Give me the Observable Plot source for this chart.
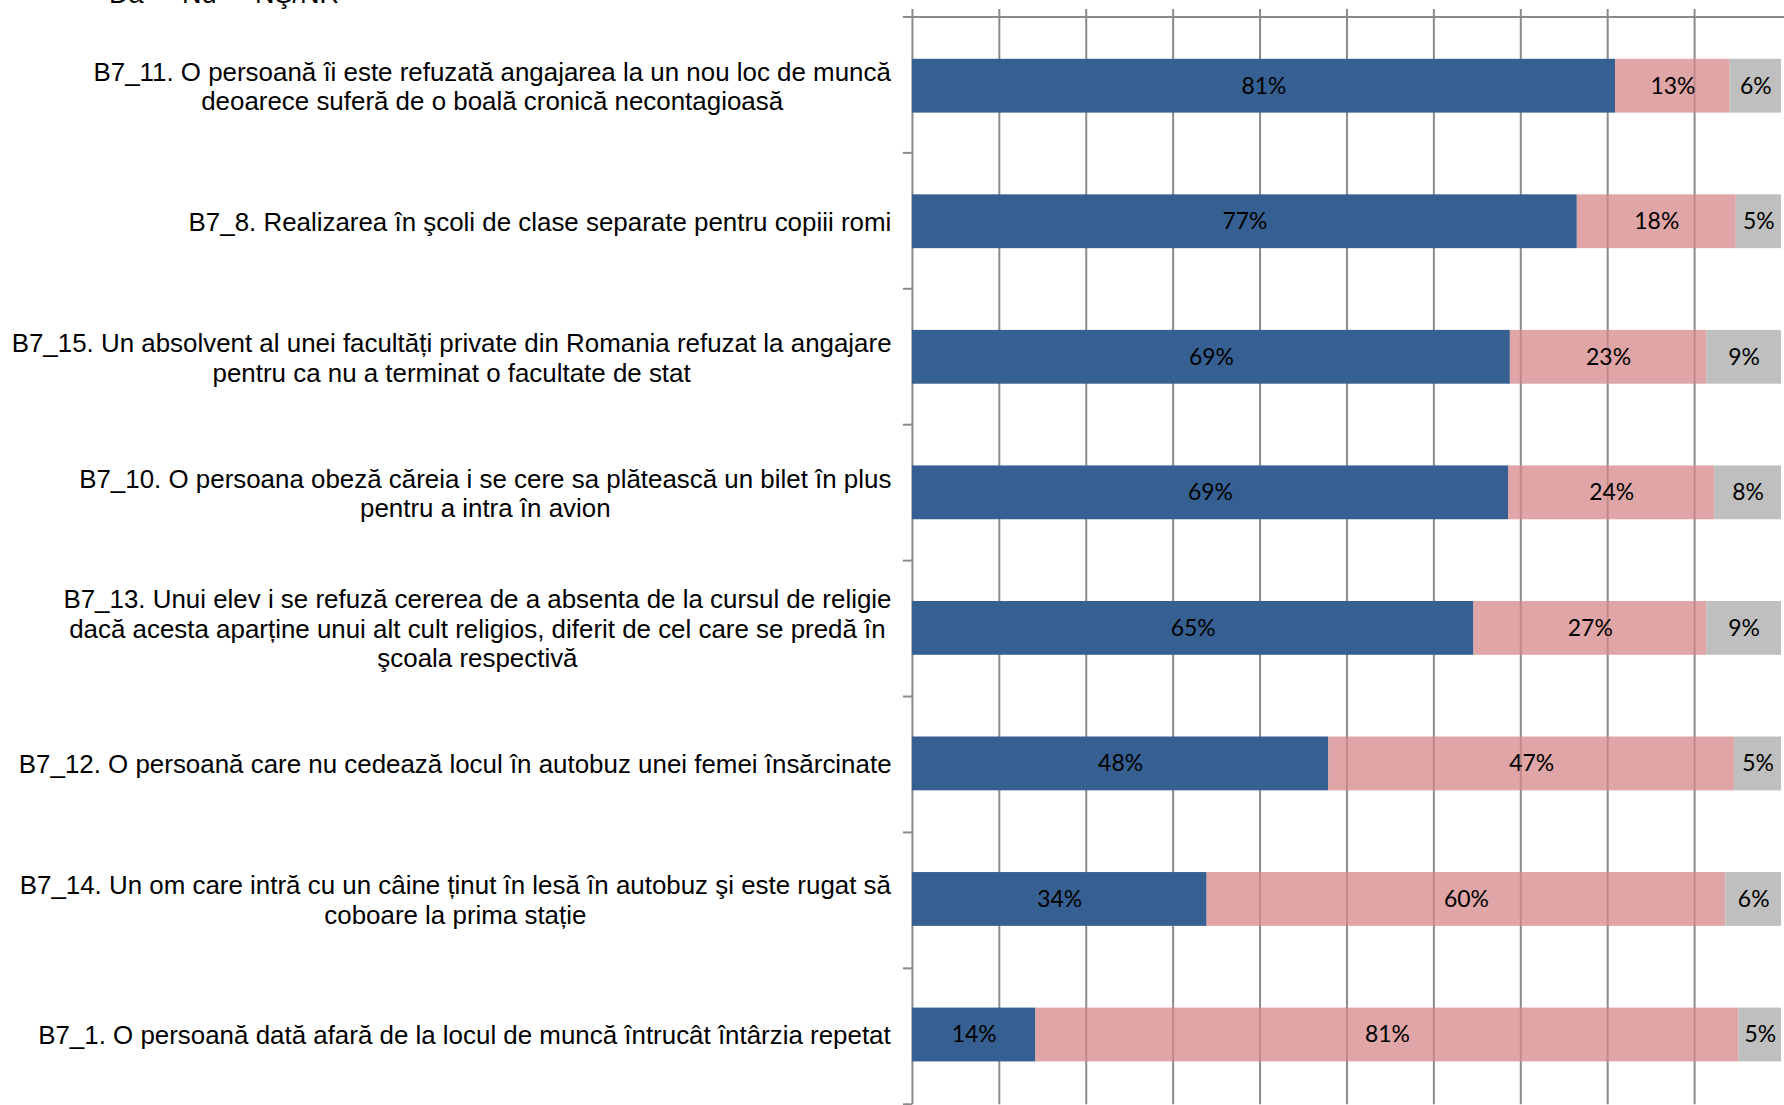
<!DOCTYPE html>
<html><head><meta charset="utf-8">
<script src="https://cdn.jsdelivr.net/npm/d3@7"></script>
<script src="https://cdn.jsdelivr.net/npm/@observablehq/plot@0.6"></script>
<style>
html,body{margin:0;padding:0;background:#fff;overflow:hidden;width:1784px;height:1105px}
#wrap{position:relative;width:1784px;height:1105px;overflow:hidden}
#chart{position:absolute;left:0;top:0}
#legend{position:absolute;left:0;top:0;font-family:"Liberation Sans",Arial,sans-serif;font-size:27px;line-height:27px;color:#000}
.li{position:absolute;top:-19px;white-space:nowrap}
.sw{position:absolute;left:-17px;top:8px;width:11px;height:11px}
</style></head><body>
<div id="wrap"><div id="chart"></div><div id="legend"></div></div>
<script>
const series = ["Da", "Nu", "NŞ/NR"];
const seriesColors = ["#366092", "#d4878a", "#bfbfbf"];
const categories = [
  "B7_11. O persoană îi este refuzată angajarea la un nou loc de muncă\ndeoarece suferă de o boală cronică necontagioasă",
  "B7_8. Realizarea în şcoli de clase separate pentru copiii romi",
  "B7_15. Un absolvent al unei facultăți private din Romania refuzat la angajare\npentru ca nu a terminat o facultate de stat",
  "B7_10. O persoana obeză căreia i se cere sa plătească un bilet în plus\npentru a intra în avion",
  "B7_13. Unui elev i se refuză cererea de a absenta de la cursul de religie\ndacă acesta aparține unui alt cult religios, diferit de cel care se predă în\nşcoala respectivă",
  "B7_12. O persoană care nu cedează locul în autobuz unei femei însărcinate",
  "B7_14. Un om care intră cu un câine ținut în lesă în autobuz şi este rugat să\ncoboare la prima stație",
  "B7_1. O persoană dată afară de la locul de muncă întrucât întârzia repetat"
];
const da = [80.9, 76.5, 68.8, 68.6, 64.6, 47.9, 33.9, 14.2];
const nu = [13.2, 18.3, 22.6, 23.7, 26.8, 46.7, 59.7, 80.9];
const ns = [5.9, 5.2, 8.6, 7.7, 8.6, 5.4, 6.4, 4.9];
const gridTicks = [0, 10, 20, 30, 40, 50, 60, 70, 80, 90];

const valuesBySeries = [da, nu, ns];
const rows = categories.flatMap((c, i) => series.map((s, j) => ({cat: c, series: s, value: valuesBySeries[j][i]})));

const axisColor = "#8a8a8a";
const axisMark = (index, scales, values, dims) => {
  const g = d3.create("svg:g").attr("stroke", axisColor).attr("stroke-width", 2);
  const x0 = scales.x(0);
  const top = dims.marginTop;
  g.append("line").attr("x1", x0 - 9).attr("x2", dims.width).attr("y1", top).attr("y2", top);
  const step = (dims.height - dims.marginTop - dims.marginBottom) / categories.length;
  for (let k = 1; k <= categories.length; k++) {
    const y = top + k * step;
    g.append("line").attr("x1", x0 - 9).attr("x2", x0).attr("y1", y).attr("y2", y);
  }
  return g.node();
};

const plot = Plot.plot({
  width: 1790,
  height: 1110,
  marginLeft: 915,
  marginRight: 3,
  marginTop: 17,
  marginBottom: 2,
  style: {background: "transparent", overflow: "visible"},
  x: {domain: [0, 100], axis: null},
  y: {domain: categories, axis: null, paddingInner: 0.6, paddingOuter: 0.3},
  color: {domain: series, range: seriesColors},
  marks: [
    Plot.ruleX(gridTicks, {stroke: axisColor, strokeWidth: 2, insetTop: -8}),
    Plot.barX(rows, {x: "value", y: "cat", fill: "series", fillOpacity: d => d.series === "Nu" ? 0.75 : 1}),
    axisMark,
    Plot.text(rows, Plot.stackX({x: "value", y: "cat", text: d => Math.round(d.value) + "%", fontSize: 23, fontFamily: "Lato, 'Open Sans', sans-serif", fill: "#000"})),
    Plot.text(categories, {y: d => d, text: d => d, frameAnchor: "left", textAnchor: "middle", lineAnchor: "middle", lineHeight: 1.14, fontSize: 26, fontFamily: "'Liberation Sans', Arial, sans-serif", fill: "#000", ariaDescription: "ylabels"})
  ]
});
document.getElementById("chart").appendChild(plot);

// right-align each label block (lines centered within block) at x = 890
const labelRight = 890;
plot.querySelectorAll('g[aria-description="ylabels"] text').forEach(t => {
  const r = t.getBoundingClientRect();
  const shift = labelRight - r.right;
  t.setAttribute("transform", (t.getAttribute("transform") || "") + ` translate(${shift},0)`);
});

// legend (mostly cropped at top, as in the reference)
const legend = document.getElementById("legend");
const legendX = [109, 182, 255];
series.forEach((s, i) => {
  const item = document.createElement("div");
  item.className = "li";
  item.style.left = legendX[i] + "px";
  const sw = document.createElement("span");
  sw.className = "sw";
  sw.style.background = seriesColors[i];
  item.appendChild(sw);
  item.appendChild(document.createTextNode(s));
  legend.appendChild(item);
});
</script>
</body></html>
